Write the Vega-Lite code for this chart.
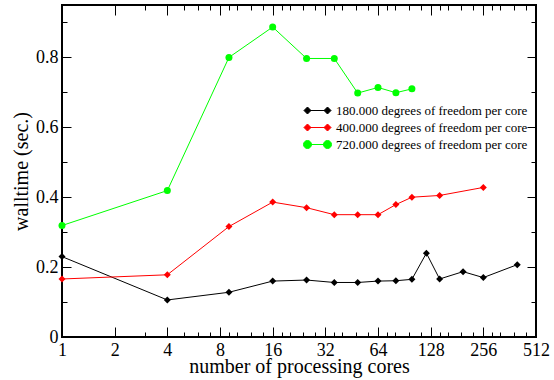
{
  "$schema": "https://vega.github.io/schema/vega-lite/v6.json",
  "width": 474,
  "height": 332,
  "autosize": {"type": "none"},
  "padding": {"left": 62, "top": 5, "right": 18, "bottom": 43},
  "background": "white",
  "config": {
    "font": "Liberation Serif",
    "view": {"stroke": "#000000", "strokeWidth": 2},
    "axis": {
      "domain": false,
      "grid": false,
      "tickColor": "#000000",
      "tickWidth": 1,
      "labelFont": "Liberation Serif",
      "labelFontSize": 18,
      "labelColor": "#000000",
      "titleFont": "Liberation Serif",
      "titleFontSize": 20,
      "titleFontWeight": "normal",
      "titleColor": "#000000"
    },
    "legend": {
      "labelFont": "Liberation Serif",
      "labelFontSize": 13,
      "labelColor": "#000000",
      "labelLimit": 400,
      "orient": "none",
      "padding": 0,
      "symbolSize": 196,
      "labelOffset": 11,
      "symbolStrokeWidth": 1,
      "symbolOpacity": 1
    }
  },
  "data": {
    "values": [
      {"cores": 1, "walltime": 0.23, "series": "180.000 degrees of freedom per core"},
      {"cores": 4, "walltime": 0.106, "series": "180.000 degrees of freedom per core"},
      {"cores": 9, "walltime": 0.128, "series": "180.000 degrees of freedom per core"},
      {"cores": 16, "walltime": 0.16, "series": "180.000 degrees of freedom per core"},
      {"cores": 25, "walltime": 0.163, "series": "180.000 degrees of freedom per core"},
      {"cores": 36, "walltime": 0.156, "series": "180.000 degrees of freedom per core"},
      {"cores": 49, "walltime": 0.156, "series": "180.000 degrees of freedom per core"},
      {"cores": 64, "walltime": 0.16, "series": "180.000 degrees of freedom per core"},
      {"cores": 81, "walltime": 0.161, "series": "180.000 degrees of freedom per core"},
      {"cores": 100, "walltime": 0.165, "series": "180.000 degrees of freedom per core"},
      {"cores": 121, "walltime": 0.24, "series": "180.000 degrees of freedom per core"},
      {"cores": 144, "walltime": 0.166, "series": "180.000 degrees of freedom per core"},
      {"cores": 196, "walltime": 0.187, "series": "180.000 degrees of freedom per core"},
      {"cores": 256, "walltime": 0.17, "series": "180.000 degrees of freedom per core"},
      {"cores": 400, "walltime": 0.207, "series": "180.000 degrees of freedom per core"},
      {"cores": 1, "walltime": 0.166, "series": "400.000 degrees of freedom per core"},
      {"cores": 4, "walltime": 0.178, "series": "400.000 degrees of freedom per core"},
      {"cores": 9, "walltime": 0.316, "series": "400.000 degrees of freedom per core"},
      {"cores": 16, "walltime": 0.386, "series": "400.000 degrees of freedom per core"},
      {"cores": 25, "walltime": 0.37, "series": "400.000 degrees of freedom per core"},
      {"cores": 36, "walltime": 0.35, "series": "400.000 degrees of freedom per core"},
      {"cores": 49, "walltime": 0.35, "series": "400.000 degrees of freedom per core"},
      {"cores": 64, "walltime": 0.35, "series": "400.000 degrees of freedom per core"},
      {"cores": 81, "walltime": 0.379, "series": "400.000 degrees of freedom per core"},
      {"cores": 100, "walltime": 0.4, "series": "400.000 degrees of freedom per core"},
      {"cores": 144, "walltime": 0.405, "series": "400.000 degrees of freedom per core"},
      {"cores": 256, "walltime": 0.428, "series": "400.000 degrees of freedom per core"},
      {"cores": 1, "walltime": 0.319, "series": "720.000 degrees of freedom per core"},
      {"cores": 4, "walltime": 0.419, "series": "720.000 degrees of freedom per core"},
      {"cores": 9, "walltime": 0.8, "series": "720.000 degrees of freedom per core"},
      {"cores": 16, "walltime": 0.887, "series": "720.000 degrees of freedom per core"},
      {"cores": 25, "walltime": 0.797, "series": "720.000 degrees of freedom per core"},
      {"cores": 36, "walltime": 0.797, "series": "720.000 degrees of freedom per core"},
      {"cores": 49, "walltime": 0.698, "series": "720.000 degrees of freedom per core"},
      {"cores": 64, "walltime": 0.714, "series": "720.000 degrees of freedom per core"},
      {"cores": 81, "walltime": 0.699, "series": "720.000 degrees of freedom per core"},
      {"cores": 100, "walltime": 0.71, "series": "720.000 degrees of freedom per core"}
    ]
  },
  "resolve": {"axis": {"x": "independent", "y": "independent"}, "legend": {"color": "independent"}},
  "layer": [
    {
      "mark": {"type": "line", "strokeWidth": 1},
      "encoding": {
        "x": {
          "field": "cores", "type": "quantitative",
          "scale": {"type": "log", "base": 2, "domain": [1, 512], "nice": false},
          "axis": {"orient": "bottom", "values": [1, 2, 4, 8, 16, 32, 64, 128, 256, 512], "format": "d", "tickSize": -10, "labelPadding": 14.5, "labelFont": "Liberation Serif", "title": "number of processing cores", "titlePadding": -3, "labelFlush": false, "labelOverlap": false}
        },
        "y": {
          "field": "walltime", "type": "quantitative",
          "scale": {"domain": [0, 0.95], "nice": false, "zero": false},
          "axis": {"orient": "left", "values": [0, 0.2, 0.4, 0.6, 0.8], "format": ".1~f", "tickSize": -9, "labelPadding": 13, "labelFont": "Liberation Serif", "title": "walltime (sec.)", "titlePadding": 4, "labelFlush": false, "labelOverlap": false}
        },
        "color": {
          "field": "series", "type": "nominal",
          "scale": {"domain": ["180.000 degrees of freedom per core", "400.000 degrees of freedom per core", "720.000 degrees of freedom per core"], "range": ["#000000", "#ff0000", "#00ff00"]},
          "legend": null
        }
      }
    },
    {
      "mark": {"type": "point", "filled": true, "opacity": 1},
      "encoding": {
        "x": {
          "field": "cores", "type": "quantitative",
          "axis": {"orient": "top", "values": [1, 2, 4, 8, 16, 32, 64, 128, 256, 512], "tickSize": -10, "labels": false, "title": null}
        },
        "y": {
          "field": "walltime", "type": "quantitative",
          "axis": {"orient": "right", "values": [0, 0.2, 0.4, 0.6, 0.8], "tickSize": -9, "labels": false, "title": null}
        },
        "color": {
          "field": "series", "type": "nominal",
          "legend": {"title": null, "values": ["180.000 degrees of freedom per core"], "legendX": 248, "legendY": 98, "labelFont": "Liberation Serif", "labelLimit": 400, "symbolStrokeColor": "#000000", "symbolFillColor": "#000000", "symbolType": "M-1.43,0L1.43,0M-1.93,0L-1.43,-0.5L-0.93,0L-1.43,0.5ZM0.93,0L1.43,-0.5L1.93,0L1.43,0.5Z"}
        },
        "shape": {
          "field": "series", "type": "nominal",
          "scale": {"domain": ["180.000 degrees of freedom per core", "400.000 degrees of freedom per core", "720.000 degrees of freedom per core"], "range": ["diamond", "diamond", "circle"]},
          "legend": null
        },
        "size": {
          "field": "series", "type": "nominal",
          "scale": {"domain": ["180.000 degrees of freedom per core", "400.000 degrees of freedom per core", "720.000 degrees of freedom per core"], "range": [49, 49, 62]},
          "legend": null
        }
      }
    },
    {
      "mark": {"type": "point", "filled": true, "opacity": 0},
      "encoding": {
        "x": {
          "field": "cores", "type": "quantitative",
          "axis": {"orient": "bottom", "values": [3, 5, 6, 7, 9, 10, 12, 14, 18, 20, 24, 28, 36, 40, 48, 56, 72, 80, 96, 112, 144, 160, 192, 224, 288, 320, 384, 448], "tickSize": -5, "labels": false, "title": null}
        },
        "y": {
          "field": "walltime", "type": "quantitative",
          "axis": {"orient": "left", "values": [0.1, 0.3, 0.5, 0.7, 0.9], "tickSize": -5, "labels": false, "title": null}
        },
        "color": {
          "field": "series", "type": "nominal",
          "legend": {"title": null, "values": ["400.000 degrees of freedom per core"], "legendX": 248, "legendY": 115, "labelFont": "Liberation Serif", "labelLimit": 400, "symbolStrokeColor": "#ff0000", "symbolFillColor": "#ff0000", "symbolType": "M-1.43,0L1.43,0M-1.93,0L-1.43,-0.5L-0.93,0L-1.43,0.5ZM0.93,0L1.43,-0.5L1.93,0L1.43,0.5Z"}
        }
      }
    },
    {
      "mark": {"type": "point", "filled": true, "opacity": 0},
      "encoding": {
        "x": {
          "field": "cores", "type": "quantitative",
          "axis": {"orient": "top", "values": [3, 5, 6, 7, 9, 10, 12, 14, 18, 20, 24, 28, 36, 40, 48, 56, 72, 80, 96, 112, 144, 160, 192, 224, 288, 320, 384, 448], "tickSize": -5, "labels": false, "title": null}
        },
        "y": {
          "field": "walltime", "type": "quantitative",
          "axis": {"orient": "right", "values": [0.1, 0.3, 0.5, 0.7, 0.9], "tickSize": -5, "labels": false, "title": null}
        },
        "color": {
          "field": "series", "type": "nominal",
          "legend": {"title": null, "values": ["720.000 degrees of freedom per core"], "legendX": 248, "legendY": 132, "labelFont": "Liberation Serif", "labelLimit": 400, "symbolStrokeColor": "#00ff00", "symbolFillColor": "#00ff00", "symbolType": "M-1.43,0L1.43,0M-2,0A0.57,0.57,0,1,0,-0.86,0A0.57,0.57,0,1,0,-2,0ZM0.86,0A0.57,0.57,0,1,0,2,0A0.57,0.57,0,1,0,0.86,0Z"}
        }
      }
    }
  ]
}
